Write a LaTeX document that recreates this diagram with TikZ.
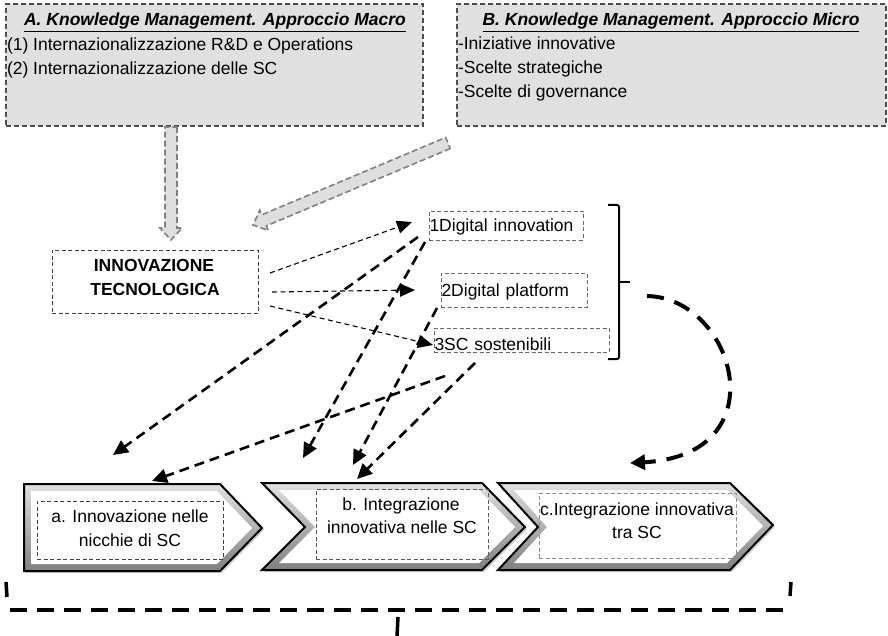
\documentclass[tikz,border=0pt]{standalone}
\usepackage{fontspec}
\setmainfont{Liberation Sans}
\usetikzlibrary{arrows.meta,calc}
\newcommand{\kmfatarrow}[2]{%
  \coordinate (fa-s) at #1;
  \coordinate (fa-t) at #2;
  \coordinate (fa-h) at ($(fa-t)!12pt!(fa-s)$);
  \draw[fatarrow] ($(fa-s)!6pt!90:(fa-t)$) -- ($(fa-h)!6pt!90:(fa-t)$) -- ($(fa-h)!11pt!90:(fa-t)$) -- (fa-t) -- ($(fa-h)!11pt!-90:(fa-t)$) -- ($(fa-h)!6pt!-90:(fa-t)$) -- ($(fa-s)!6pt!-90:(fa-t)$) -- cycle;}
\newcommand{\kmchevron}[2]{%
  \fill[black!18] [shift={(2,2)}] #1;
  \fill[top color=black!12, bottom color=black!50] #1;
  \fill[white] #2;
  \draw[line width=2pt, line join=miter] #1;}
\begin{document}
\begin{tikzpicture}[x=1pt,y=-1pt,
  every node/.style={font=\fontsize{17.5}{21}\selectfont, inner sep=0pt, outer sep=0pt},
  kmbox/.style={draw=black!70, fill=black!12, line width=1.1pt, dash pattern=on 5pt off 3pt},
  thinbox/.style={draw=black!75, line width=0.8pt, dash pattern=on 4pt off 2.5pt},
  dbox/.style={draw=black!60, line width=0.8pt, dash pattern=on 4pt off 2.5pt, anchor=base west, align=left, inner xsep=0.5pt, inner ysep=0pt},
  fatarrow/.style={draw=black!50, fill=black!13, line width=1.6pt, dash pattern=on 6pt off 3pt, line join=miter},
  thinarrow/.style={line width=1.1pt, dash pattern=on 5pt off 3.5pt, -{Triangle[length=15pt,width=13pt]}},
  thickarrow/.style={line width=2.6pt, dash pattern=on 10pt off 6pt, -{Triangle[length=15pt,width=14pt]}},
  curvearrow/.style={line width=4pt, dash pattern=on 17pt off 11pt, -{Triangle[length=15pt,width=15pt]}},
  bracedash/.style={line width=4pt, dash pattern=on 17pt off 10pt},
  tickline/.style={line width=3.5pt}
]
\useasboundingbox (0,0) rectangle (888,636);

% top boxes
\node[kmbox, anchor=north west, minimum width=417pt, minimum height=122pt] (boxA) at (6,4) {};
\node[anchor=base] (titleA) at (215,26) {\textbf{\textit{\underline{A. Knowledge Management. Approccio Macro}}}};
\node[anchor=base west] (a1) at (7,51) {(1) Internazionalizzazione R\&D e Operations};
\node[anchor=base west] (a2) at (7,75) {(2) Internazionalizzazione delle SC};

\node[kmbox, anchor=north west, minimum width=429pt, minimum height=122pt] (boxB) at (457,4) {};
\node[anchor=base] (titleB) at (671,26) {\textbf{\textit{\underline{B. Knowledge Management. Approccio Micro}}}};
\node[anchor=base west] (b1) at (458,50) {-Iniziative innovative};
\node[anchor=base west] (b2) at (458,74) {-Scelte strategiche};
\node[anchor=base west] (b3) at (458,98) {-Scelte di governance};

% innovazione
\node[thinbox, minimum width=206pt, minimum height=63pt] (innov) at (155,281.5) {};
\node[anchor=base] (innov1) at (154,271) {\textbf{INNOVAZIONE}};
\node[anchor=base] (innov2) at (155,295) {\textbf{TECNOLOGICA}};

% digital boxes
\node[dbox, text width=153pt, text height=21pt, text depth=8pt] (d1) at (429,232) {1Digital innovation};
\node[dbox, text width=145pt, text height=23pt, text depth=11pt] (d2) at (441,296) {2Digital platform};
\node[dbox, text width=174pt, text height=22pt, text depth=2pt] (d3) at (434,350) {3SC sostenibili};

% bracket
\draw[line width=2pt, rounded corners=2pt] (608,205) -- (619,205) -- (619,359) -- (608,359);
\draw[line width=2pt] (619,282) -- (630,282);
\coordinate (brk) at (630,282);

% fat gray arrows
\kmfatarrow{($(boxA.south)+(-43.5,1)$)}{($(innov.north)+(16,-10)$)}
\kmfatarrow{($(boxB.south west)+(-9,17)$)}{($(innov.north east)+(-5,-25)$)}

% chevrons
\kmchevron{(24,484) -- (220,484) -- (262,528) -- (220,571) -- (24,571) -- cycle}{(31,491) -- (217,491) -- (252,528) -- (217,564) -- (31,564) -- cycle}
\kmchevron{(262,483) -- (482,483) -- (525,527) -- (482,570) -- (262,570) -- (305,527) -- cycle}{(279,490) -- (479,490) -- (515,527) -- (479,563) -- (279,563) -- (315,527) -- cycle}
\kmchevron{(498,483) -- (730,483) -- (773,525) -- (730,570) -- (498,570) -- (538,527) -- cycle}{(514,490) -- (727,490) -- (763,526) -- (727,563) -- (514,563) -- (547,527) -- cycle}

\node[thinbox, minimum width=186pt, minimum height=58pt] (ia) at (130,530) {};
\node[anchor=base] (ta1) at (130,522) {a. Innovazione nelle};
\node[anchor=base] (ta2) at (130,546) {nicchie di SC};
\node[thinbox, draw=black!65, minimum width=172pt, minimum height=70pt] (ib) at (402,524) {};
\node[anchor=base] (tb1) at (401,510) {b. Integrazione};
\node[anchor=base] (tb2) at (402,533) {innovativa nelle SC};
\node[thinbox, draw=black!45, minimum width=197pt, minimum height=65pt] (ic) at (637.5,525.5) {};
\node[anchor=base] (tc1) at (637,515) {c.Integrazione innovativa};
\node[anchor=base] (tc2) at (637,538) {tra SC};

% arrow targets on the chevrons
\coordinate (pA1) at (113,455);
\coordinate (pA2) at (152,481);
\coordinate (pB1) at (303,458);
\coordinate (pB2) at (353,465);
\coordinate (pB3) at (357,479);
\coordinate (pC) at (630,463);

% thin arrows
\draw[thinarrow] ($(innov.east)+(12,-8.5)$) -- ($(d1.west)+(-17,-3.5)$);
\draw[thinarrow] ($(innov.east)+(14,10.5)$) -- ($(d2.west)+(-26,0)$);
\draw[thinarrow] ($(innov.east)+(12,24.5)$) -- ($(d3.west)+(-1,5)$);

% thick arrows
\draw[thickarrow] ($(d1.south west)+(-11,-3)$) -- (pA1);
\draw[thickarrow] ($(d1.south west)+(-4,2)$) -- (pB1);
\draw[thickarrow] ($(d2.south west)+(-4,1)$) -- (pB2);
\draw[thickarrow] ($(d3.south west)+(41,11)$) -- (pB3);
\draw[thickarrow] ($(d3.south west)+(11,24)$) -- (pA2);

% curved arrow
\draw[curvearrow] ($(brk)+(17,14)$) .. controls (735,298) and (780,455) .. (pC);

% bottom dashed brace
\draw[bracedash] (10,610) -- (790,610);
\draw[tickline] (6,582) -- (7,597);
\draw[tickline] (791,582) -- (790,596);
\draw[tickline] (398,617) -- (397,636);
\end{tikzpicture}
\end{document}
